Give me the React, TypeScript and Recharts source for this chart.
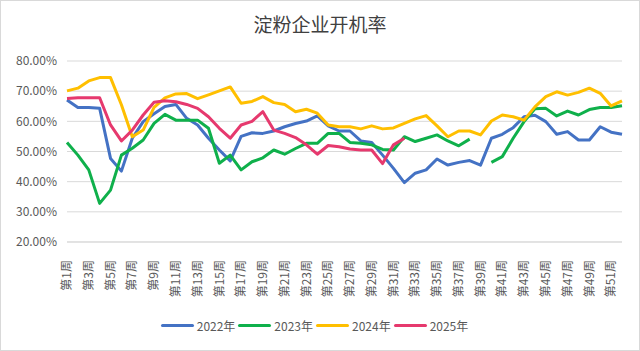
import React from 'react';
import { LineChart, Line, XAxis, YAxis, CartesianGrid, Legend } from 'recharts';

// 周次
const weeks = [
  '第1周', '第2周', '第3周', '第4周', '第5周', '第6周', '第7周', '第8周', '第9周', '第10周',
  '第11周', '第12周', '第13周', '第14周', '第15周', '第16周', '第17周', '第18周', '第19周', '第20周',
  '第21周', '第22周', '第23周', '第24周', '第25周', '第26周', '第27周', '第28周', '第29周', '第30周',
  '第31周', '第32周', '第33周', '第34周', '第35周', '第36周', '第37周', '第38周', '第39周', '第40周',
  '第41周', '第42周', '第43周', '第44周', '第45周', '第46周', '第47周', '第48周', '第49周', '第50周',
  '第51周', '第52周',
];

// 开机率 (%)
const rate2022 = [
  67.1, 64.6, 64.6, 64.3, 47.7, 43.5, 54.4, 59.9, 62.5, 64.9,
  65.6, 61.0, 58.8, 54.4, 50.5, 46.9, 55.0, 56.2, 56.0, 56.8,
  58.2, 59.3, 60.1, 61.8, 58.5, 56.8, 56.8, 53.5, 53.0, 48.8,
  44.4, 39.7, 42.8, 43.9, 47.5, 45.5, 46.4, 47.0, 45.5, 54.4,
  55.7, 57.9, 61.5, 62.0, 59.9, 55.7, 56.6, 53.8, 53.8, 58.2, 56.4, 55.7,
];
const rate2023 = [
  53.0, 48.8, 43.9, 32.8, 37.2, 48.8, 51.1, 53.8, 59.3, 62.3,
  60.4, 60.4, 60.4, 57.7, 46.1, 48.8, 43.9, 46.6, 47.9, 50.5,
  49.1, 51.0, 52.7, 52.7, 56.0, 56.0, 53.0, 52.7, 52.2, 50.7,
  50.5, 54.9, 53.3, 54.4, 55.5, 53.5, 51.9, 54.1, null, 46.4,
  48.3, 54.4, 59.9, 64.2, 64.3, 61.8, 63.4, 62.1, 63.9, 64.6, 64.6, 65.2,
];
const rate2024 = [
  70.1, 71.0, 73.4, 74.5, 74.5, 65.5, 54.9, 57.1, 64.6, 67.8,
  69.1, 69.2, 67.5, 68.8, 70.1, 71.4, 66.0, 66.6, 68.2, 66.2,
  65.6, 63.2, 64.0, 62.7, 58.8, 58.2, 58.2, 57.5, 58.5, 57.5,
  57.8, 59.3, 60.8, 61.9, 58.5, 54.9, 56.8, 56.8, 55.5, 60.1,
  62.1, 61.5, 60.4, 64.8, 68.2, 69.8, 68.7, 69.6, 71.0, 69.3, 65.1, 66.8,
];
const rate2025 = [
  67.6, 67.8, 67.8, 67.8, 58.8, 53.5, 57.1, 62.1, 66.3, 66.8,
  66.5, 65.6, 64.3, 61.5, 57.7, 54.4, 58.8, 60.0, 63.2, 57.1,
  56.0, 54.6, 52.2, 49.1, 52.0, 51.6, 50.8, 50.5, 50.5, 46.0,
  52.2, 54.4,
];

const yTicks = [20, 30, 40, 50, 60, 70, 80];

const series = [
  { key: 'y2022', name: '2022年', color: '#4472C4' },
  { key: 'y2023', name: '2023年', color: '#0FB04B' },
  { key: 'y2024', name: '2024年', color: '#FFBF00' },
  { key: 'y2025', name: '2025年', color: '#E6396E' },
];

const data = weeks.map((w, i) => ({
  week: w,
  y2022: rate2022[i] ?? null,
  y2023: rate2023[i] ?? null,
  y2024: rate2024[i] ?? null,
  y2025: rate2025[i] ?? null,
}));

const FONT = '"Noto Sans CJK SC", "Noto Sans", sans-serif';

const WeekTick = (props: any) => {
  const { x, y, payload } = props;
  return (
    <text
      x={x}
      y={y + 10}
      dy="0.35em"
      transform={`rotate(-90, ${x}, ${y + 10})`}
      textAnchor="end"
      fontSize={12}
      fontFamily={FONT}
      fill="#595959"
    >
      {payload.value}
    </text>
  );
};

const renderLegend = () => (
  <div style={{ display: 'flex', justifyContent: 'center', alignItems: 'center', fontFamily: FONT, fontSize: 12, color: '#595959', paddingLeft: 5 }}>
    {series.map((s) => (
      <div key={s.key} style={{ display: 'flex', alignItems: 'center', marginRight: 3 }}>
        <span style={{ display: 'inline-block', width: 33, height: 3, borderRadius: 2, background: s.color, marginRight: 3 }} />
        <span>{s.name}</span>
      </div>
    ))}
  </div>
);

const App: React.FC = () => {
  return (
    <div
      style={{
        position: 'absolute', left: 0, top: 0, width: 640, height: 351,
        boxSizing: 'border-box', border: '1px solid #d9d9d9', background: '#fff',
      }}
    >
      <div
        style={{
          position: 'absolute', top: 11, left: 0, width: '100%', textAlign: 'center',
          fontFamily: FONT, fontSize: 19, color: '#404040', lineHeight: '24px',
        }}
      >
        淀粉企业开机率
      </div>
      <div style={{ position: 'absolute', left: -1, top: -1 }}>
        <LineChart width={640} height={351} data={data} margin={{ top: 61, right: 18, bottom: 14, left: 5 }}>
          <CartesianGrid vertical={false} stroke="#d9d9d9" />
          <XAxis
            dataKey="week"
            interval={1}
            height={75}
            tickLine={false}
            axisLine={{ stroke: '#d9d9d9' }}
            tick={<WeekTick />}
          />
          <YAxis
            domain={[20, 80]}
            ticks={yTicks}
            width={62}
            tickLine={false}
            axisLine={false}
            tickSize={0}
            tickMargin={10}
            tick={{ fontSize: 12, fill: '#595959', fontFamily: FONT }}
            tickFormatter={(v: number) => `${v.toFixed(2)}%`}
          />
          <Legend verticalAlign="bottom" height={20} content={renderLegend} />
          {series.map((s) => (
            <Line
              key={s.key}
              type="linear"
              dataKey={s.key}
              name={s.name}
              stroke={s.color}
              strokeWidth={3}
              dot={false}
              isAnimationActive={false}
              strokeLinejoin="round"
            />
          ))}
        </LineChart>
      </div>
    </div>
  );
};

export default App;
